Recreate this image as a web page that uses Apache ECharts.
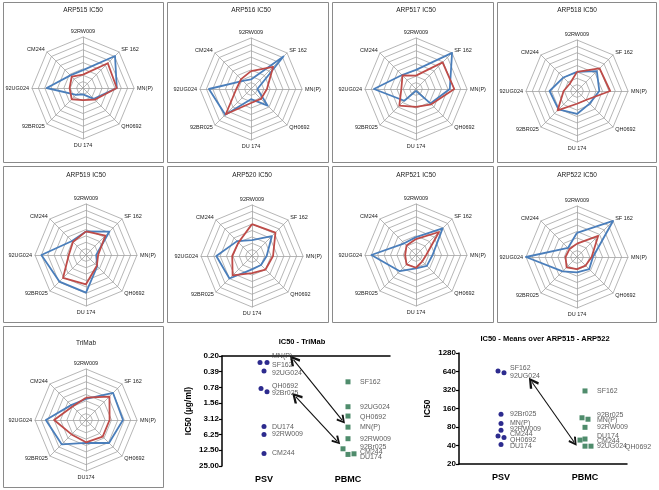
<!DOCTYPE html>
<html><head><meta charset="utf-8">
<script src="https://cdn.jsdelivr.net/npm/echarts@6/dist/echarts.min.js"></script>
<style>html,body{margin:0;padding:0;background:#fff}#c{width:659px;height:490px}</style>
</head><body><div id="c"></div>
<script>
// ---------- radar data (display order clockwise from top) ----------
const radarAxes = ['92RW009','SF 162','MN(P)','QH0692','DU 174','92BR025','92UG024','CM244'];
const trimabAxes = ['92RW009','SF 162','MN(P)','QH0692','DU174','92BR025','92UG024','CM244'];
const radarTitles = ['ARP515 IC50','ARP516 IC50','ARP517 IC50','ARP518 IC50','ARP519 IC50','ARP520 IC50','ARP521 IC50','ARP522 IC50','TriMab'];
const arp515Blue = [2.8,7.1,5.3,2.4,1.0,1.5,5.7,2.8];
const arp515Red  = [2.1,5.5,5.3,2.6,1.9,2.5,2.1,2.5];
const arp516Blue = [1.5,7.2,1.0,3.7,1.6,5.7,6.6,1.8];
const arp516Red  = [2.8,4.9,2.5,2.2,2.2,5.6,2.3,2.2];
const arp517Blue = [3.0,8.0,5.3,3.2,0.3,2.6,6.6,3.1];
const arp517Red  = [2.1,5.9,6.0,3.4,2.8,3.7,2.3,3.0];
const arp518Blue = [3.0,4.4,3.5,2.8,3.6,4.1,4.3,3.0];
const arp518Red  = [3.0,5.0,5.2,2.0,2.0,4.3,2.1,1.6];
const arp519Blue = [3.7,5.2,1.6,2.5,5.9,5.9,7.0,3.1];
const arp519Red  = [3.7,4.3,1.9,2.4,4.6,5.1,2.7,2.9];
const arp520Blue = [2.5,4.4,2.3,2.0,2.1,5.0,5.6,3.3];
const arp520Red  = [5.0,5.2,3.3,3.0,2.7,4.3,3.1,3.0];
const arp521Blue = [2.8,5.9,2.6,2.4,2.1,3.6,7.0,2.6];
const arp521Red  = [2.5,5.1,1.6,1.4,2.0,2.1,1.7,2.1];
const arp522Blue = [3.8,8.0,2.5,2.7,2.4,3.2,8.0,2.0];
const arp522Red  = [2.1,4.7,2.3,1.9,1.9,2.3,1.8,1.7];
const trimabBlue = [3.3,6.0,5.8,5.1,3.6,5.4,6.3,3.3];
const trimabRed  = [3.5,5.2,3.7,3.7,3.5,3.2,5.0,3.0];
const radarMax = 8;

// ---------- scatter data ----------
const catLabels = ['PSV','PBMC'];
const trimabTicks = ['0.20','0.39','0.78','1.56','3.12','6.25','12.50','25.00'];
const meansTicks = ['20','40','80','160','320','640','1280'];
const trimabPsvNames  = ['MN(P)','SF162','92UG024','QH0692','92Br025','DU174','92RW009','CM244'];
const trimabPsvValues = [0.26,0.26,0.38,0.82,0.95,4.4,6.2,14.4];
const trimabPbmcNames  = ['SF162','92UG024','QH0692','MN(P)','92RW009','92Br025','CM244','DU174'];
const trimabPbmcValues = [0.61,1.83,2.76,4.5,7.5,11.7,15.0,14.6];
const meansPsvNames  = ['SF162','92UG024','92Br025','MN(P)','92RW009','CM244','QH0692','DU174'];
const meansPsvValues = [653,613,129,91,71,57,54,41.7];
const meansPbmcNames  = ['SF162','92Br025','MN(P)','92RW009','DU174','CM244','92UG024','QH0692'];
const meansPbmcValues = [309,113,107,79,49,51,39,39];
// arrows: [category position, value] pairs
const trimabArrows = [[[0.35,0.23],[0.93,3.3]],[[0.38,1.19],[0.87,8.3]]];
const meansArrows  = [[[0.37,428],[0.87,45.6]]];

// ---------- styles / layout ----------
const FONT = 'Liberation Sans';
const panelRects = [[3,2,160,160],[167,2,161,160],[332,2,161,160],[497,2,159,160],
                    [3,166,160,156],[167,166,161,156],[332,166,161,156],[497,166,159,156],
                    [3,326,160,161]];
const radarCenters = [[83,88],[251,89],[416,89],[577,91],[86,255],[252,256],[416,255],[577,257],[86,420]];
const titleY = [10,10,10,10,175,175,175,175,343];
const trimabPsvJitter = [-4,3,0,-3,3,0,0,0];
const trimabPbmcJitter = [0,0,0,0,0,-5,0,6];
const meansPsvJitter = [-3,3,0,0,0,-3,3,0];
const meansPbmcJitter = [0,-3,3,0,-5,0,0,6];
const trimabPsvNudge = [[0,-6],[0,3],[0,2],[0,-2],[0,1],[0,0],[0,0],[0,0]];
const trimabPbmcNudge = [[0,0],[0,0],[0,1],[0,0],[0,0],[0,-2],[0,-2],[0,3]];
const meansPsvNudge = [[0,-3],[0,3],[0,0],[0,0],[0,-1],[0,-2],[0,3],[0,2]];
const meansPbmcNudge = [[0,0],[0,-3],[0,1],[0,0],[0,-4],[0,2],[0,0],[28,1]];

const BLUE = '#4a7ebb', RED = '#be4b48', GRIDC = '#a3a3a3';
const PSVC = '#2d2b8e', PBMCC = '#4f8c6c';

const blueSets = [arp515Blue,arp516Blue,arp517Blue,arp518Blue,arp519Blue,arp520Blue,arp521Blue,arp522Blue,trimabBlue];
const redSets  = [arp515Red,arp516Red,arp517Red,arp518Red,arp519Red,arp520Red,arp521Red,arp522Red,trimabRed];
const ccw = [0,7,6,5,4,3,2,1]; // ECharts radar runs counter-clockwise
const reorder = a => ccw.map(k => a[k]);

const radars = radarCenters.map((c,i) => ({
  center: c, radius: 51, startAngle: 90, splitNumber: 8, shape: 'polygon',
  indicator: reorder(i === 8 ? trimabAxes : radarAxes).map(n => ({name: n, min: 0, max: radarMax})),
  axisName: {color: '#222', fontSize: 5.5, fontFamily: FONT},
  nameGap: 3,
  splitLine: {lineStyle: {color: GRIDC, width: 0.8}},
  splitArea: {show: false},
  axisLine: {lineStyle: {color: GRIDC, width: 0.8}},
  axisTick: {show: false}, axisLabel: {show: false}
}));
const radarSeries = radarCenters.map((c,i) => ({
  type: 'radar', radarIndex: i, symbol: 'none', silent: true,
  data: [
    {value: reorder(blueSets[i]), lineStyle: {color: BLUE, width: 1.8}},
    {value: reorder(redSets[i]), lineStyle: {color: RED, width: 1.8}}
  ]
}));

const tY = v => Math.log2(v / 0.1953125);
const mY = v => Math.log2(v / 20);

function pointSeries(grid, xPos, vals, tf, jitter, color, symbol, size) {
  return {type: 'scatter', xAxisIndex: grid, yAxisIndex: grid, symbol, symbolSize: size,
    itemStyle: {color, opacity: 1}, silent: true,
    data: vals.map((v,i) => ({value: [xPos, tf(v)], symbolOffset: [jitter[i], 0]}))};
}
function labelSeries(grid, xPos, names, vals, tf, nudge, dist) {
  return {type: 'scatter', xAxisIndex: grid, yAxisIndex: grid, symbolSize: 0, silent: true,
    data: vals.map((v,i) => ({value: [xPos, tf(v)], name: names[i],
      label: {show: true, position: 'right', distance: dist, offset: nudge[i],
        formatter: names[i], color: '#333', fontSize: 7, fontFamily: FONT}}))};
}
const HEAD = 'path://M5,0 L10,8 L8.3,9.3 L5,3.6 L1.7,9.3 L0,8 Z';
function arrowSeries(grid, arrows, tf) {
  return {type: 'lines', coordinateSystem: 'cartesian2d', xAxisIndex: grid, yAxisIndex: grid,
    symbol: [HEAD, HEAD], symbolSize: [11, 9], silent: true,
    lineStyle: {color: '#111', width: 1.1, opacity: 1},
    data: arrows.map(a => ({coords: a.map(p => [p[0] + 0.5, tf(p[1])])}))};
}

const axisCommon = {
  axisLine: {show: true, lineStyle: {color: '#000', width: 1.5}},
  splitLine: {show: false}
};
function xAx(grid) {
  return Object.assign({type: 'value', gridIndex: grid, min: 0, max: 2, interval: 0.5,
    axisTick: {show: false},
    axisLabel: {formatter: v => v === 0.5 ? catLabels[0] : (v === 1.5 ? catLabels[1] : ''),
      color: '#000', fontWeight: 'bold', fontSize: 9, fontFamily: FONT, margin: 9}}, axisCommon);
}
function yAx(grid, ticks, inverse, name, gap) {
  return Object.assign({type: 'value', gridIndex: grid, min: 0, max: ticks.length - 1, interval: 1,
    inverse, name, nameLocation: 'middle', nameGap: gap, nameRotate: 90,
    nameTextStyle: {color: '#000', fontWeight: 'bold', fontSize: 8.5, fontFamily: FONT},
    axisTick: {show: true, length: 3, lineStyle: {color: '#000', width: 1.2}},
    axisLabel: {formatter: v => ticks[v], color: '#000', fontWeight: 'bold', fontSize: 8, fontFamily: FONT, margin: 3}},
    axisCommon);
}

const graphics = panelRects.map(r => ({type: 'rect', silent: true, z: 0,
  shape: {x: r[0] + 0.5, y: r[1] + 0.5, width: r[2], height: r[3]},
  style: {fill: 'none', stroke: '#8a8a8a', lineWidth: 1}}));
radarCenters.forEach((c,i) => graphics.push({type: 'text', silent: true, x: c[0], y: titleY[i],
  style: {text: radarTitles[i], align: 'center', verticalAlign: 'middle', fill: '#222',
    font: '6.5px "Liberation Sans"'}}));
graphics.push({type: 'text', silent: true, x: 302, y: 342,
  style: {text: 'IC50 - TriMab', align: 'center', verticalAlign: 'middle', fill: '#000', font: 'bold 7.5px "Liberation Sans"'}});
graphics.push({type: 'text', silent: true, x: 545, y: 339,
  style: {text: 'IC50 - Means over ARP515 - ARP522', align: 'center', verticalAlign: 'middle', fill: '#000', font: 'bold 7.5px "Liberation Sans"'}});

const chart = echarts.init(document.getElementById('c'), null, {renderer: 'canvas'});
chart.setOption({
  animation: false,
  backgroundColor: '#fff',
  radar: radars,
  grid: [
    {left: 222, top: 356, width: 168, height: 110},
    {left: 459, top: 353, width: 168, height: 111}
  ],
  xAxis: [xAx(0), xAx(1)],
  yAxis: [yAx(0, trimabTicks, true, 'IC50 (µg/ml)', 29), yAx(1, meansTicks, false, 'IC50', 27)],
  graphic: graphics,
  series: radarSeries.concat([
    pointSeries(0, 0.5, trimabPsvValues, tY, trimabPsvJitter, PSVC, 'circle', 5),
    pointSeries(0, 1.5, trimabPbmcValues, tY, trimabPbmcJitter, PBMCC, 'rect', 5),
    labelSeries(0, 0.5, trimabPsvNames, trimabPsvValues, tY, trimabPsvNudge, 8),
    labelSeries(0, 1.5, trimabPbmcNames, trimabPbmcValues, tY, trimabPbmcNudge, 12),
    arrowSeries(0, trimabArrows, tY),
    pointSeries(1, 0.5, meansPsvValues, mY, meansPsvJitter, PSVC, 'circle', 5),
    pointSeries(1, 1.5, meansPbmcValues, mY, meansPbmcJitter, PBMCC, 'rect', 5),
    labelSeries(1, 0.5, meansPsvNames, meansPsvValues, mY, meansPsvNudge, 9),
    labelSeries(1, 1.5, meansPbmcNames, meansPbmcValues, mY, meansPbmcNudge, 12),
    arrowSeries(1, meansArrows, mY)
  ])
});
</script></body></html>
